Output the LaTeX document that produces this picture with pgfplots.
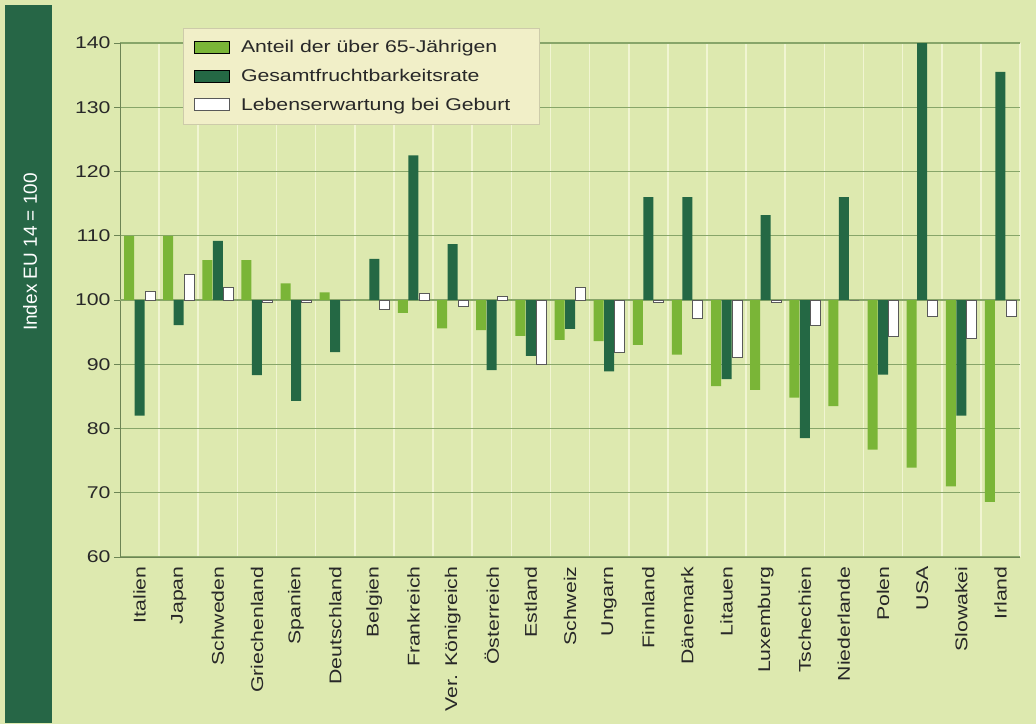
\documentclass[border=0pt]{standalone}
\usepackage{pgfplots}
\pgfplotsset{compat=1.18}
\usepackage{pgfplotstable}
\usepackage{fontspec}
\setmainfont{Liberation Sans}[FakeStretch=1.25]
\newfontfamily\plainsans{Liberation Sans}
\definecolor{bg}{RGB}{221,233,175}
\definecolor{band}{RGB}{38,102,70}
\definecolor{lgreen}{RGB}{122,181,55}
\definecolor{dgreen}{RGB}{36,104,68}
\definecolor{legbg}{RGB}{241,239,200}
\definecolor{hgrid}{RGB}{135,165,105}
\definecolor{vgrid}{RGB}{241,245,210}
\definecolor{txt}{RGB}{40,40,40}

\pgfplotstableread{
x a g l
0 110 82 101.4
1 110 96.1 104
2 106.2 109.2 101.9
3 106.2 88.3 99.7
4 102.6 84.3 99.7
5 101.2 91.9 100
6 100 106.4 98.5
7 98 122.5 101
8 95.6 108.7 99
9 95.3 89.1 100.6
10 94.4 91.3 89.9
11 93.8 95.5 101.9
12 93.6 88.9 91.9
13 93.0 116 99.7
14 91.5 116 97.2
15 86.6 87.7 91
16 86 113.2 99.7
17 84.8 78.5 96
18 83.5 116 100
19 76.7 88.4 94.4
20 73.9 140 97.5
21 71 82 94
22 68.6 135.5 97.4
}\data

\begin{document}
\begin{tikzpicture}[x=1pt,y=1pt]
\useasboundingbox (0,0) rectangle (1036,724);
\fill[bg] (0,0) rectangle (1036,724);
\fill[band] (5,1) rectangle (52,719);
\node[rotate=90, text=white, font=\plainsans\fontsize{19}{22}\selectfont] at (30,472) {Index EU 14 = 100};
\begin{axis}[
  at={(120pt,167pt)}, anchor=south west,
  scale only axis, width=900pt, height=514pt,
  xmin=-0.5, xmax=22.5, ymin=-40, ymax=40,
  axis x line=bottom, axis y line=left,
  axis line style={-, draw=hgrid!80!black, line width=0.8pt},
  ytick={-40,-30,...,40},
  yticklabels={60,70,80,90,100,110,120,130,140},
  tick align=outside, major tick length=6pt,
  ytick style={draw=hgrid!80!black, line width=0.6pt},
  xtick=data,
  xticklabels={Italien,Japan,Schweden,Griechenland,Spanien,Deutschland,Belgien,Frankreich,Ver. Königreich,Österreich,Estland,Schweiz,Ungarn,Finnland,Dänemark,Litauen,Luxemburg,Tschechien,Niederlande,Polen,USA,Slowakei,Irland},
  xtick style={draw=none},
  minor xtick={0.5,1.5,...,22.5},
  xminorgrids, minor grid style={vgrid, line width=1.6pt},
  ymajorgrids, major grid style={hgrid, line width=1.4pt},
  x tick label style={rotate=90, anchor=east, text=txt, font=\fontsize{17}{20}\selectfont},
  y tick label style={text=txt, font=\fontsize{17}{20}\selectfont},
  /pgf/number format/assume math mode=true,
  ybar, bar width=10pt,
  legend image code/.code={\draw[#1] (0pt,-6pt) rectangle (35pt,6pt);},
  legend style={at={(0.07,1.029)}, anchor=north west, fill=legbg, draw=legbg!85!black,
    font=\fontsize{17}{20}\selectfont, text=txt, row sep=11pt, column sep=9pt,
    inner xsep=11pt, inner ysep=10pt},
  legend cell align=left,
  extra y ticks={0}, extra y tick labels={},
  extra y tick style={grid style={draw=black!65, line width=1.4pt}},
]
\addplot[fill=lgreen, draw=none, bar shift=-10.5pt] table[x=x, y expr=\thisrow{a}-100] {\data};
\addplot[fill=dgreen, draw=none, bar shift=0pt] table[x=x, y expr=\thisrow{g}-100] {\data};
\addplot[fill=white, draw=black!65, line width=0.8pt, bar shift=10.5pt] table[x=x, y expr=\thisrow{l}-100] {\data};
\legend{\makebox[285pt][l]{Anteil der über 65-Jährigen},\makebox[285pt][l]{Gesamtfruchtbarkeitsrate},\makebox[285pt][l]{Lebenserwartung bei Geburt}}
\end{axis}
\end{tikzpicture}
\end{document}
